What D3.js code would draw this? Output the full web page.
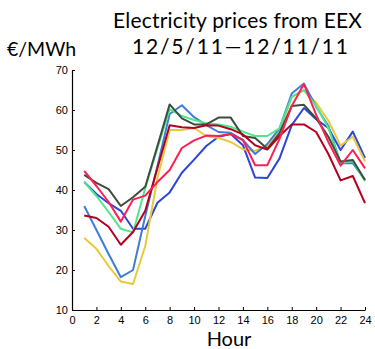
<!DOCTYPE html>
<html>
  <head>
    <title>Electricity prices from EEX</title>
    <script src='https://cdn.jsdelivr.net/npm/d3@7/dist/d3.min.js'></script>
    <style type='text/css'>
      body, html {
        margin: 0;
        padding: 0;
        background: #fff;
      }
      svg {
        display: block;
      }
    </style>
  </head>
  <body>
    <svg width='375' height='349'></svg>

    <script type='text/javascript'>
      // hours of the day
      var hours = [1, 2, 3, 4, 5, 6, 7, 8, 9, 10, 11, 12, 13, 14, 15, 16, 17, 18, 19, 20, 21, 22, 23, 24]

      // one price curve per day (EUR/MWh)
      var steelBlueDay = [36, 30, 24, 18.2, 20, 33.5, 46, 59, 61.2, 58.2, 56.2, 54.5, 54.3, 52.5, 49, 51.5, 55.4, 64.1, 66.6, 60.8, 56, 46.7, 46.7, 42.5]
      var yellowDay = [28, 25.3, 21, 17.1, 16.5, 26, 43, 55, 55, 55.5, 53.5, 53, 52, 50.2, 49.8, 51, 54.6, 63.3, 64.9, 61.8, 57.3, 51.1, 53.3, 47.2]
      var greenDay = [42, 38.5, 34.5, 30.3, 29.4, 40.5, 50.5, 60.2, 58.5, 57.5, 56.7, 56.4, 55.8, 54.6, 53.5, 53.5, 55.4, 63.3, 65, 61, 55.5, 46.7, 47.3, 42.2]
      var grayDay = [43.8, 41.8, 40.2, 36, 38.2, 40.8, 51, 61.4, 57.9, 56.4, 56.4, 58.1, 58.1, 53.5, 53, 50.3, 54.2, 61, 61.3, 57.9, 53.3, 47.1, 47.5, 42.5]
      var redDay = [44.8, 41, 37, 32.1, 37.6, 38.6, 42, 45, 50.5, 52.4, 53.6, 53.5, 54, 52.5, 46.2, 46.2, 52.8, 61, 66.5, 58.8, 52, 46.1, 50, 45.4]
      var darkRedDay = [33.6, 33, 30.8, 26.3, 29.5, 34.8, 45.5, 56.2, 55.7, 55.5, 56.2, 56.1, 55.2, 53.9, 51.2, 50.1, 53.5, 56.4, 56.4, 54.5, 49, 42.4, 43.5, 36.7]
      var blueDay = [42, 39, 36.7, 34.8, 30.3, 30.3, 36.8, 39.4, 44.3, 47.6, 51, 53.3, 54, 51.2, 43.1, 43, 47.9, 56.2, 60.5, 57.7, 55.5, 50, 54.6, 48]

      var xTicks = [0, 2, 4, 6, 8, 10, 12, 14, 16, 18, 20, 22, 24]
      var yTicks = [10, 20, 30, 40, 50, 60, 70]

      var series = [
        {values: blueDay, color: '#2b46da'},
        {values: yellowDay, color: '#e8c93a'},
        {values: steelBlueDay, color: '#3c7ed8'},
        {values: greenDay, color: '#4fe68c'},
        {values: grayDay, color: '#3e4c3f'},
        {values: darkRedDay, color: '#b3001f'},
        {values: redDay, color: '#ff1e52'}
      ]

      function drawChart() {
        var svg = d3.select('svg')

        var x = d3.scaleLinear().domain([0, 24]).range([72, 365])
        var y = d3.scaleLinear().domain([10, 70]).range([310, 70])

        var line = d3.line()
          .x(function(d) { return x(d[0]) })
          .y(function(d) { return y(d[1]) })

        series.forEach(function(s) {
          svg.append('path')
            .datum(hours.map(function(h, i) { return [h, s.values[i]] }))
            .attr('fill', 'none')
            .attr('stroke', s.color)
            .attr('stroke-width', 2)
            .attr('stroke-linejoin', 'round')
            .attr('d', line)
        })

        // axes, ticks pointing inward like the original
        var xAxis = svg.append('g')
          .attr('transform', 'translate(0,310)')
          .call(d3.axisBottom(x).tickValues(xTicks).tickSizeInner(-3).tickSizeOuter(0).tickPadding(7))
        var yAxis = svg.append('g')
          .attr('transform', 'translate(72,0)')
          .call(d3.axisLeft(y).tickValues(yTicks).tickSizeInner(-3).tickSizeOuter(0).tickPadding(4))

        ;[xAxis, yAxis].forEach(function(a) {
          a.select('.domain').attr('stroke', '#000').attr('stroke-width', 1.2)
          a.selectAll('.tick line').attr('stroke', '#000')
          a.selectAll('.tick text')
            .attr('fill', '#000')
            .style('font-family', "'Liberation Sans', Arial, sans-serif")
            .style('font-size', '11px')
        })
        xAxis.selectAll('.tick text').attr('dy', '0.6em')

        var labelFont = "Lato, 'Open Sans', sans-serif"

        // title lines, spread a little to the width of the original
        svg.append('text')
          .attr('x', 113)
          .attr('y', 28)
          .attr('textLength', 249)
          .attr('lengthAdjust', 'spacing')
          .style('font-family', labelFont)
          .style('font-size', '21px')
          .text('Electricity prices from EEX')

        svg.append('text')
          .attr('x', 132)
          .attr('y', 54)
          .attr('textLength', 216)
          .attr('lengthAdjust', 'spacing')
          .style('font-family', labelFont)
          .style('font-size', '21px')
          .text('12/5/11\u201412/11/11')

        svg.append('text')
          .attr('x', 7)
          .attr('y', 56)
          .style('font-family', labelFont)
          .style('font-size', '19.5px')
          .text('\u20ac/MWh')

        svg.append('text')
          .attr('x', 229)
          .attr('y', 346)
          .attr('text-anchor', 'middle')
          .style('font-family', labelFont)
          .style('font-size', '20px')
          .text('Hour')
      }

      drawChart()
    </script>
  </body>
</html>
